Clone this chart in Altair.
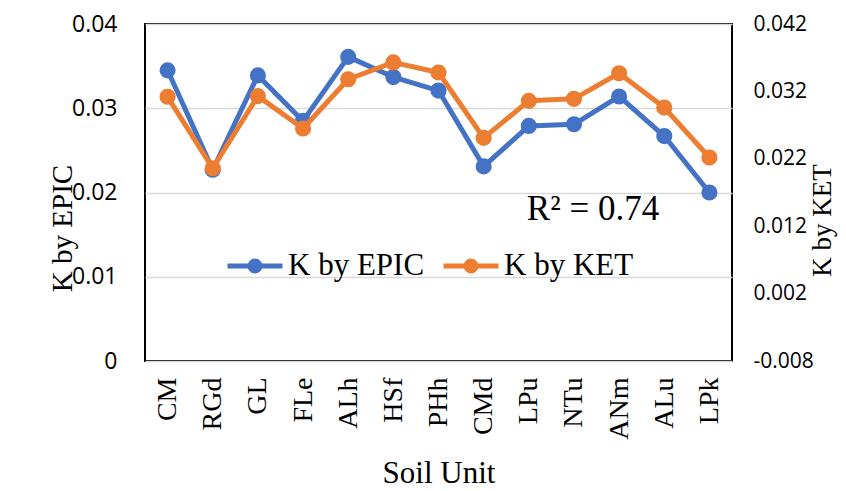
import altair as alt
import pandas as pd

cats = ["CM", "RGd", "GL", "FLe", "ALh", "HSf", "PHh", "CMd", "LPu", "NTu", "ANm", "ALu", "LPk"]
epic = [0.0345, 0.0227, 0.0339, 0.0285, 0.0361, 0.0337, 0.0321, 0.0231, 0.0279, 0.0281, 0.0314, 0.0267, 0.0200]
ket = [0.0312, 0.0206, 0.0313, 0.0265, 0.0338, 0.0363, 0.0348, 0.0251, 0.0306, 0.0309, 0.0347, 0.0296, 0.0222]
series_names = ["K by EPIC", "K by KET"]
series_colors = ["#4472C4", "#ED7D31"]
left_ticks = [0, 0.01, 0.02, 0.03, 0.04]
right_ticks = [-0.008, 0.002, 0.012, 0.022, 0.032, 0.042]
r2_label = "R\u00b2 = 0.74"
r2_pos = ("LPu", 0.0167)

df = pd.DataFrame({"cat": cats, "epic": epic, "ket": ket})
r2_df = pd.DataFrame({"cat": [r2_pos[0]], "epic": [r2_pos[1]], "label": [r2_label]})

SERIF = "Liberation Serif"
SANS = "Open Sans"

x_enc = alt.X(
    "cat:N",
    sort=cats,
    scale=alt.Scale(domain=cats),
    axis=alt.Axis(
        title="Soil Unit",
        labelAngle=270,
        labelFont=SERIF,
        labelFontSize=28,
        labelColor="black",
        labelPadding=16,
        ticks=False,
        domain=False,
        grid=False,
        titleFont=SERIF,
        titleFontSize=31,
        titleFontWeight="normal",
        titleColor="black",
        titleX=293.5,
        titleY=121,
        titleAlign="center",
        titleBaseline="alphabetic",
    ),
)

legend = alt.Legend(
    title=None,
    orient="none",
    direction="horizontal",
    legendX=80,
    legendY=212,
    symbolType="M-1,0L1,0M-0.18,0A0.18,0.18,0,1,0,0.18,0A0.18,0.18,0,1,0,-0.18,0Z",
    symbolSize=3025,
    symbolStrokeWidth=5,
    symbolOpacity=1,
    labelFont=SERIF,
    labelFontSize=31,
    labelColor="black",
    labelOffset=3,
    columnPadding=8,
)

stroke_enc = alt.Stroke(
    "series:N",
    scale=alt.Scale(domain=series_names, range=series_colors),
    legend=legend,
)
fill_enc = alt.Fill(
    "series:N",
    scale=alt.Scale(domain=series_names, range=series_colors),
    legend=legend,
)

left_axis = alt.Axis(
    values=left_ticks,
    format="~g",
    title="K by EPIC",
    labelFont=SANS,
    labelFontSize=23,
    labelColor="black",
    labelPadding=28,
    ticks=False,
    domain=False,
    grid=True,
    gridColor="#D9D9D9",
    gridWidth=1.5,
    titleFont=SERIF,
    titleFontSize=29,
    titleFontWeight="normal",
    titleColor="black",
    titleAngle=270,
    titleX=-83,
    titleY=204,
    titleAlign="center",
    titleBaseline="middle",
)

right_axis = alt.Axis(
    orient="right",
    values=right_ticks,
    labelExpr="replace(format(datum.value, '.3f'), '\u2212', '-')",
    title="K by KET",
    labelFont=SANS,
    labelFontSize=21,
    labelColor="black",
    labelPadding=21,
    ticks=False,
    domain=False,
    grid=False,
    titleFont=SERIF,
    titleFontSize=27,
    titleFontWeight="normal",
    titleColor="black",
    titleAngle=270,
    titleX=90,
    titleY=196,
    titleAlign="center",
    titleBaseline="middle",
)

y_epic = alt.Y("epic:Q", scale=alt.Scale(domain=[0, 0.04], nice=False, zero=False), axis=left_axis)
y_ket = alt.Y("ket:Q", scale=alt.Scale(domain=[-0.008, 0.042], nice=False, zero=False), axis=right_axis)

base = alt.Chart(df)

epic_line = base.transform_calculate(series="'K by EPIC'").mark_line(
    strokeWidth=5, strokeJoin="round", strokeCap="round"
).encode(x=x_enc, y=y_epic, stroke=stroke_enc)
epic_pts = base.transform_calculate(series="'K by EPIC'").mark_point(
    filled=True, size=200, opacity=1, shape="circle"
).encode(x=x_enc, y=y_epic, fill=fill_enc, stroke=stroke_enc)

r2_text = alt.Chart(r2_df).mark_text(
    font=SERIF, fontSize=35, color="black", align="left", baseline="alphabetic", dx=-2
).encode(x=x_enc, y=y_epic, text="label:N")

ket_line = base.transform_calculate(series="'K by KET'").mark_line(
    strokeWidth=5, strokeJoin="round", strokeCap="round"
).encode(x=x_enc, y=y_ket, stroke=stroke_enc)
ket_pts = base.transform_calculate(series="'K by KET'").mark_point(
    filled=True, size=200, opacity=1, shape="circle"
).encode(x=x_enc, y=y_ket, fill=fill_enc, stroke=stroke_enc)

epic_layer = alt.layer(epic_line, epic_pts, r2_text)
ket_layer = alt.layer(ket_line, ket_pts)

chart = alt.layer(epic_layer, ket_layer).resolve_scale(y="independent").properties(
    width=587,
    height=337,
    padding={"left": 137, "top": 16, "right": 106, "bottom": 128},
    autosize=alt.AutoSizeParams(type="none"),
    background="white",
).configure_view(stroke="black", strokeWidth=2)

chart.save("out.html", embed_options={"renderer": "svg", "actions": False})
